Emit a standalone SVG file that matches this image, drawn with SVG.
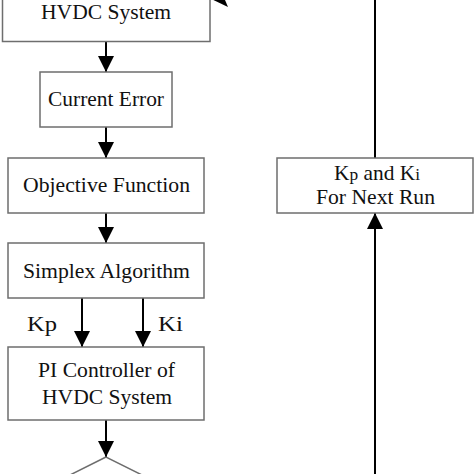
<svg xmlns="http://www.w3.org/2000/svg" width="474" height="474" viewBox="0 0 474 474">
<style>
.box{fill:#fff;stroke:#6e6e6e;stroke-width:1.5}
.t{font-family:"Liberation Serif","Times New Roman",serif;font-size:21px;fill:#111;text-anchor:middle}
.c{fill:none;stroke:#000;stroke-width:2}
.sm{font-size:17px}
</style>
<defs>
<marker id="ah" viewBox="0 0 16 16" refX="16" refY="8" markerWidth="16" markerHeight="16" markerUnits="userSpaceOnUse" orient="auto">
<path d="M0,0 L16,8 L0,16 z" fill="#000"/>
</marker>
</defs>
<rect width="474" height="474" fill="#fff"/>
<g id="connectors">
<line class="c" x1="106" y1="41.5" x2="106" y2="72" marker-end="url(#ah)"/>
<line class="c" x1="106" y1="127" x2="106" y2="158" marker-end="url(#ah)"/>
<line class="c" x1="106" y1="213" x2="106" y2="243" marker-end="url(#ah)"/>
<line class="c" x1="82" y1="298" x2="82" y2="347" marker-end="url(#ah)"/>
<line class="c" x1="143" y1="298" x2="143" y2="347" marker-end="url(#ah)"/>
<line class="c" x1="106" y1="420" x2="106" y2="457" marker-end="url(#ah)"/>
<line class="c" x1="375" y1="480" x2="375" y2="213" marker-end="url(#ah)"/>
<line class="c" x1="375" y1="158" x2="375" y2="-20"/>
<polygon points="228,7 222,-7 205,-4" fill="#000"/>
</g>
<g id="hvdc-top">
<rect class="box" x="2.5" y="-20" width="207.5" height="61.5"/>
<text class="t" x="106" y="18.5" textLength="130" lengthAdjust="spacingAndGlyphs">HVDC System</text>
</g>
<g id="current-error">
<rect class="box" x="40" y="72" width="132" height="55"/>
<text class="t" x="106" y="106" textLength="116" lengthAdjust="spacingAndGlyphs">Current Error</text>
</g>
<g id="objective">
<rect class="box" x="8" y="158" width="196" height="55"/>
<text class="t" x="106.5" y="192" textLength="167" lengthAdjust="spacingAndGlyphs">Objective Function</text>
</g>
<g id="simplex">
<rect class="box" x="8" y="243" width="196" height="55"/>
<text class="t" x="106.5" y="278" textLength="167" lengthAdjust="spacingAndGlyphs">Simplex Algorithm</text>
</g>
<g id="labels">
<text class="t" x="42" y="331" textLength="30" lengthAdjust="spacingAndGlyphs">Kp</text>
<text class="t" x="170.5" y="331" textLength="25" lengthAdjust="spacingAndGlyphs">Ki</text>
</g>
<g id="pi-controller">
<rect class="box" x="8" y="347" width="196" height="73"/>
<text class="t" x="106.5" y="377" textLength="137" lengthAdjust="spacingAndGlyphs">PI Controller of</text>
<text class="t" x="107" y="404" textLength="130" lengthAdjust="spacingAndGlyphs">HVDC System</text>
</g>
<g id="decision">
<polygon class="box" points="106,457 40,490 106,523 172,490"/>
</g>
<g id="next-run">
<rect class="box" x="277" y="158" width="196" height="55"/>
<text class="t" x="377" y="180" textLength="86" lengthAdjust="spacingAndGlyphs">K<tspan class="sm">p</tspan> and K<tspan class="sm">i</tspan></text>
<text class="t" x="375.5" y="204" textLength="119" lengthAdjust="spacingAndGlyphs">For Next Run</text>
</g>
</svg>
